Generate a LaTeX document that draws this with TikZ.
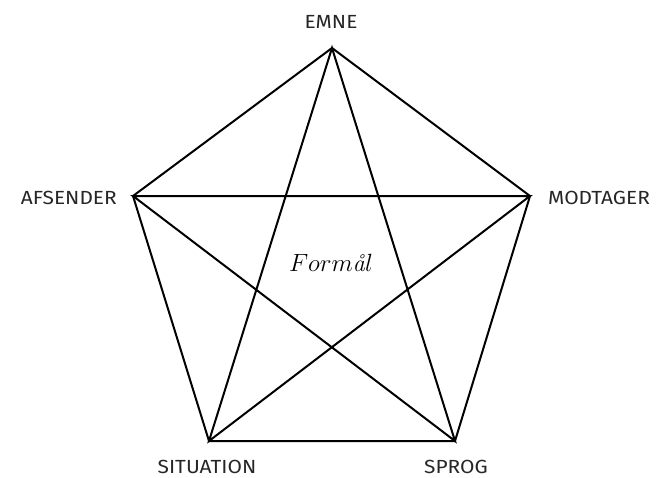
\documentclass[tikz,border=0pt]{standalone}
\usepackage{fontspec}
\setsansfont[FakeStretch=1.1]{Fira Sans}
\usetikzlibrary{calc}

\begin{document}
\begin{tikzpicture}[
      x=1pt, y=-1pt,
      navn/.style={font=\sffamily\fontsize{19}{20}\selectfont, inner sep=0pt, text=black!85},
      midte/.style={font=\fontsize{24}{24}\selectfont, inner sep=0pt, anchor=base},
      kant/.style={line width=2pt, line join=miter, line cap=round}
    ]
    \useasboundingbox (0,0) rectangle (659,477);
    \coordinate (e) at (332,48);
    \coordinate (a) at (133,196);
    \coordinate (m) at (530,196);
    \coordinate (s) at (209,441);
    \coordinate (p) at (455,441);

    \node[navn,anchor=base] (le) at (331,28)  {EMNE};
    \node[navn,anchor=base east] (la) at (117,204) {AFSENDER};
    \node[navn,anchor=base west] (lm) at (548,204) {MODTAGER};
    \node[navn,anchor=base] (ls) at (207,473) {SITUATION};
    \node[navn,anchor=base] (lp) at (456,473) {SPROG};
    \node[midte] (f) at (331,271) {$Form$\textit{å}$l$};

    % femkant
    \draw[kant] (e) -- (m) -- (p) -- (s) -- (a) -- cycle;
    % stjerne
    \draw[kant] (e) -- (p) -- (a) -- (m) -- (s) -- cycle;
  \end{tikzpicture}
\end{document}
